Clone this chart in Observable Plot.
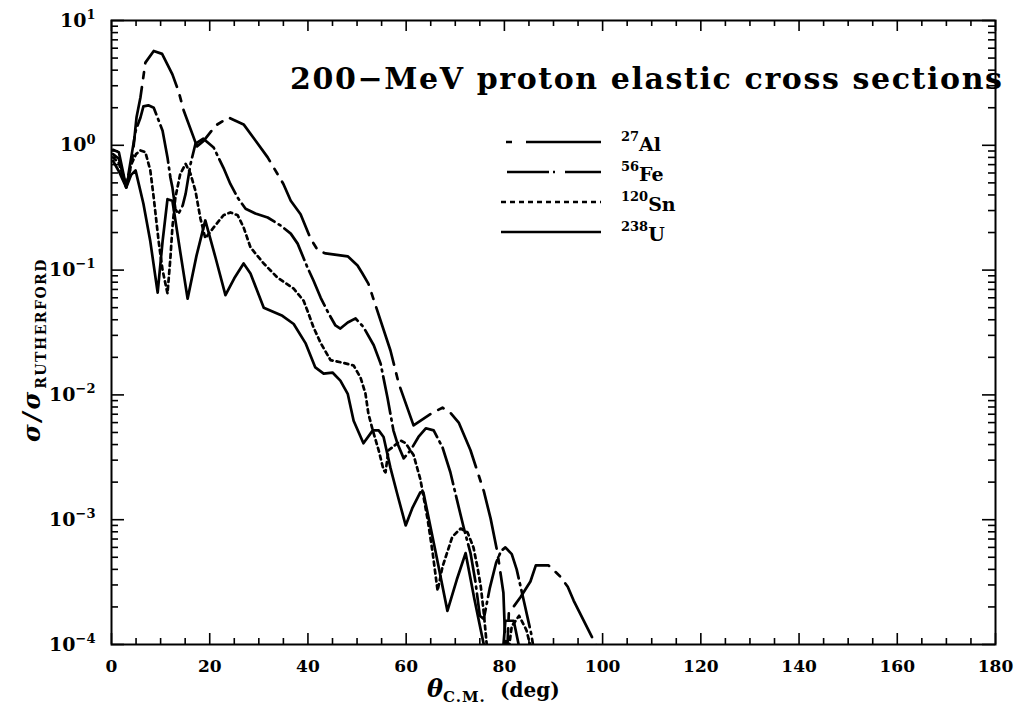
<!DOCTYPE html>
<html><head><meta charset="utf-8">
<script src="https://cdn.jsdelivr.net/npm/d3@7"></script>
<script src="https://cdn.jsdelivr.net/npm/@observablehq/plot@0.6"></script>
<style>
body{margin:0;background:#fff;}
#wrap{position:relative;width:1017px;height:712px;}
</style></head><body><div id="wrap"></div>
<script>
// theta (deg), sigma/sigma_Rutherford
const al27 = [[0.3,0.92],[1.5,0.88],[3.0,0.46],[4.2,0.75],[5.1,1.68],[5.9,2.43],[6.9,4.6],[8.6,5.7],[10.3,5.4],[12.4,3.7],[13.7,2.67],[14.7,1.9],[17.4,0.98],[18.8,1.09],[21.2,1.44],[23.8,1.67],[26.9,1.47],[28.9,1.15],[31.8,0.8],[35.0,0.49],[36.5,0.36],[38.5,0.28],[40.5,0.18],[42.0,0.144],[43.6,0.136],[48.1,0.129],[50.1,0.109],[51.1,0.094],[52.3,0.078],[56.8,0.0227],[58.5,0.0123],[61.5,0.0057],[65.4,0.0072],[67.4,0.0079],[69.0,0.0072],[70.7,0.006],[73.1,0.0036],[75.8,0.0017],[77.2,0.00102],[78.6,0.00054],[79.8,0.00026],[80.4,0.00006],[80.9,0.000178],[83.3,0.00024],[85.3,0.00032],[86.4,0.00043],[89.0,0.00043],[91.4,0.00035],[92.9,0.00029],[94.1,0.000225],[98.6,0.0001],[99.5,0.00008]];
const fe56 = [[0.3,0.85],[1.5,0.78],[3.0,0.46],[3.9,0.75],[4.9,1.3],[5.9,1.67],[6.5,2.05],[7.5,2.09],[8.6,2.0],[10.4,1.31],[11.4,0.8],[12.0,0.55],[12.4,0.46],[13.0,0.31],[13.6,0.28],[14.5,0.33],[15.1,0.41],[16.1,0.71],[17.1,1.03],[18.7,1.13],[20.8,0.96],[22.8,0.66],[24.2,0.49],[25.7,0.38],[27.3,0.31],[29.3,0.284],[31.8,0.264],[34.4,0.228],[36.5,0.196],[37.9,0.163],[39.9,0.105],[41.1,0.083],[42.6,0.06],[44.2,0.045],[45.6,0.036],[46.6,0.034],[48.1,0.038],[49.7,0.041],[51.3,0.035],[53.4,0.025],[54.8,0.0178],[56.2,0.0095],[57.4,0.0052],[58.2,0.0041],[59.5,0.0031],[60.9,0.0036],[62.5,0.0046],[64.0,0.0054],[65.6,0.0052],[67.4,0.0038],[69.0,0.0024],[70.7,0.00126],[71.7,0.00087],[73.1,0.00054],[74.1,0.00032],[75.0,0.00017],[75.8,0.00016],[77.0,0.00028],[78.3,0.00045],[79.3,0.00056],[80.2,0.0006],[81.5,0.00053],[82.5,0.0004],[84.0,0.00022],[85.5,0.00012],[86.2,0.00008]];
const sn120 = [[0.3,0.8],[1.5,0.72],[3.0,0.47],[4.0,0.7],[5.0,0.85],[5.9,0.91],[6.9,0.88],[7.9,0.63],[8.6,0.38],[9.6,0.17],[10.4,0.1],[11.4,0.065],[12.0,0.126],[12.4,0.22],[13.0,0.38],[14.0,0.59],[15.1,0.71],[16.1,0.59],[17.1,0.43],[18.1,0.26],[19.1,0.18],[21.2,0.23],[22.8,0.275],[24.2,0.29],[25.7,0.275],[26.9,0.22],[28.3,0.152],[31.0,0.113],[33.8,0.087],[37.1,0.071],[39.1,0.057],[40.1,0.045],[41.1,0.035],[42.6,0.026],[44.6,0.019],[47.3,0.018],[49.3,0.0172],[50.7,0.0138],[51.7,0.0103],[52.3,0.0071],[53.2,0.0052],[54.4,0.0036],[55.4,0.0025],[55.8,0.0024],[56.4,0.0036],[58.9,0.0043],[59.9,0.0041],[61.5,0.0033],[62.9,0.0021],[64.4,0.00099],[65.4,0.00054],[66.4,0.00027],[67.4,0.00042],[69.4,0.00073],[71.1,0.00085],[72.5,0.00079],[73.7,0.0006],[74.5,0.00042],[75.2,0.00029],[75.8,0.00018],[76.4,0.0001],[77.0,0.00007],[80.5,0.00007],[81.5,0.00014],[83.0,0.00017],[84.5,0.00013],[85.5,0.00009]];
const u238 = [[0.3,0.75],[1.5,0.62],[3.0,0.46],[4.0,0.58],[4.9,0.63],[6.5,0.34],[7.9,0.17],[9.4,0.066],[10.4,0.17],[11.4,0.37],[12.4,0.36],[14.0,0.14],[15.5,0.059],[17.3,0.13],[19.1,0.25],[21.2,0.125],[23.2,0.063],[25.0,0.086],[26.9,0.113],[28.3,0.094],[31.0,0.05],[34.8,0.043],[37.1,0.037],[39.5,0.026],[41.5,0.0166],[43.2,0.0148],[45.0,0.0151],[46.6,0.013],[48.1,0.0102],[49.3,0.0062],[51.3,0.0041],[53.2,0.0052],[54.4,0.0052],[55.4,0.0046],[56.8,0.0026],[58.2,0.0016],[59.9,0.0009],[61.3,0.00125],[62.9,0.00166],[63.5,0.00166],[66.0,0.00055],[68.4,0.000186],[70.3,0.00033],[72.1,0.00054],[73.9,0.00023],[75.8,0.0001],[76.3,0.00007],[79.5,0.00007],[80.2,0.000155],[81.9,0.000155],[82.9,0.0001],[83.3,0.00007]];

const seriesSup = ["27","56","120","238"];
const seriesEl = ["Al","Fe","Sn","U"];
const xTicks = [0,20,40,60,80,100,120,140,160,180];
const yExps = [-4,-3,-2,-1,0,1];
const titleText = "200\u2212MeV proton elastic cross sections";

const W = 1017, H = 712, mL = 111, mR = 22, mT = 20, mB = 68;
const plotW = W - mL - mR, plotH = H - mT - mB;
const yMajor = yExps.map(e => Math.pow(10, e));
const yMinor = [];
for (const e of yExps.slice(0, -1)) for (let m = 2; m <= 9; m++) yMinor.push(m * Math.pow(10, e));
const xMinor = [];
for (let v = 5; v < 180; v += 5) if (v % 20 !== 0) xMinor.push(v);

const styles = [
  {data: al27, dash: "60,9,6,9", legDash: "6,14,80,14"},
  {data: fe56, dash: "38,5,2,5", legDash: "42,4,2,10"},
  {data: sn120, dash: "4,4", legDash: "5,4"},
  {data: u238, dash: null, legDash: null}
];

const tk = {stroke: "black", strokeWidth: 1.6};
const marks = [
  Plot.tickX(xMinor, {x: d => d, insetTop: plotH - 6, ...tk}),
  Plot.tickX(xTicks, {x: d => d, insetTop: plotH - 11, ...tk}),
  Plot.tickX(xMinor, {x: d => d, insetBottom: plotH - 6, ...tk}),
  Plot.tickX(xTicks, {x: d => d, insetBottom: plotH - 11, ...tk}),
  Plot.tickY(yMinor, {y: d => d, insetRight: plotW - 7, ...tk}),
  Plot.tickY(yMajor, {y: d => d, insetRight: plotW - 13, ...tk}),
  Plot.tickY(yMinor, {y: d => d, insetLeft: plotW - 7, ...tk}),
  Plot.tickY(yMajor, {y: d => d, insetLeft: plotW - 13, ...tk}),
  Plot.axisX(xTicks, {tickSize: 0, tickPadding: 15, label: null}),
  Plot.axisY(yMajor, {tickSize: 0, tickPadding: 16, label: null, fontSize: 19, tickFormat: d => String(Math.round(Math.log10(d))).replace("-", "\u2212")}),
];
for (const s of styles) {
  marks.push(Plot.line(s.data, {x: d => d[0], y: d => d[1], stroke: "black", strokeWidth: 2.7,
    strokeDasharray: s.dash || undefined, clip: true}));
}
marks.push(Plot.frame({stroke: "black", strokeWidth: 2}));

const svgEl = Plot.plot({
  width: W, height: H, marginLeft: mL, marginRight: mR, marginTop: mT, marginBottom: mB,
  style: {fontFamily: "'DejaVu Serif', serif", fontSize: "17px", fontWeight: "bold", background: "white", color: "black"},
  x: {domain: [0, 180]},
  y: {type: "log", domain: [1e-4, 10]},
  marks
});
document.getElementById("wrap").appendChild(svgEl);

const svg = d3.select(svgEl);
// superscript exponents on y tick labels
svg.selectAll('g[aria-label="y-axis tick label"] text').each(function() {
  const t = d3.select(this);
  const e = t.text();
  t.text("10");
  t.append("tspan").attr("dy", "-0.6em").attr("font-size", "13px").text(e);
});

const ann = svg.append("g").attr("font-family", "'DejaVu Serif', serif").attr("font-weight", "bold")
  .attr("fill", "black").attr("text-anchor", "start");
// title
ann.append("text").attr("x", 290).attr("y", 89).attr("font-size", "30px").attr("text-anchor", "start")
  .attr("textLength", 712).attr("lengthAdjust", "spacing").text(titleText);

// legend
const legY = [142, 172, 202, 232];
styles.forEach((s, i) => {
  const y = legY[i];
  const ln = ann.append("line").attr("x1", i === 0 ? 506 : (i === 1 ? 507 : 501)).attr("x2", 601)
    .attr("y1", y).attr("y2", y).attr("stroke", "black").attr("stroke-width", 2.6);
  if (s.legDash) ln.attr("stroke-dasharray", s.legDash);
  const t = ann.append("text").attr("x", 621).attr("y", y + 9).attr("text-anchor", "start");
  t.append("tspan").attr("font-size", "13px").attr("dy", "-10").text(seriesSup[i]);
  t.append("tspan").attr("font-size", "19px").attr("dy", "10").text(seriesEl[i]);
});

// y axis title
const yl = ann.append("text").attr("transform", "translate(40,442) rotate(-90)").attr("text-anchor", "start");
yl.append("tspan").attr("font-size", "24px").attr("font-style", "italic").attr("letter-spacing", "3").text("\u03c3/\u03c3");
yl.append("tspan").attr("font-size", "14px").attr("dy", "6").attr("letter-spacing", "1.5").text("RUTHERFORD");

// x axis title
const xl = ann.append("text").attr("x", 427).attr("y", 697).attr("text-anchor", "start");
xl.append("tspan").attr("font-size", "24px").attr("font-style", "italic").text("\u03b8");
xl.append("tspan").attr("font-size", "15px").attr("dy", "5").attr("letter-spacing", "1").text("C.M.");
xl.append("tspan").attr("font-size", "20px").attr("dy", "-5").attr("x", 500).text("(deg)");
</script>
</body></html>
